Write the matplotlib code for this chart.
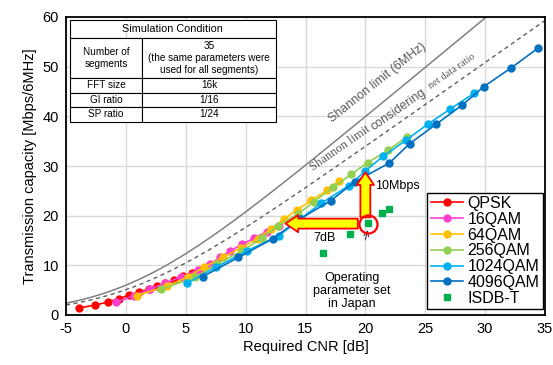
import matplotlib
matplotlib.use("Agg")
import matplotlib.pyplot as plt
import numpy as np
from matplotlib.patches import FancyArrowPatch

plt.rcParams['font.family'] = ['Liberation Sans', 'DejaVu Sans']
plt.rcParams['axes.unicode_minus'] = False

# data
qpsk_x = [-3.9, -2.6, -1.5, -0.6, 0.3, 1.1, 1.9, 2.6, 3.3, 4.0, 4.8, 5.5, 6.3]
qpsk_y = [1.4, 2.0, 2.6, 3.3, 4.0, 4.6, 5.2, 5.8, 6.4, 7.0, 7.8, 8.5, 9.0]
qam16_x = [-0.8, 0.7, 2.0, 3.3, 4.6, 6.0, 7.0, 7.9, 8.7, 9.7, 10.7, 11.8, 12.8]
qam16_y = [2.6, 3.9, 5.2, 6.4, 7.7, 9.0, 10.3, 11.6, 12.9, 14.2, 15.5, 16.8, 18.0]
qam64_x = [0.9, 3.4, 5.2, 6.5, 8.1, 9.6, 11.0, 12.1, 13.2, 14.3, 15.5, 16.8, 17.8]
qam64_y = [3.9, 5.8, 7.7, 9.6, 11.6, 13.5, 15.4, 17.3, 19.3, 21.2, 23.1, 25.1, 27.0]
qam256_x = [2.9, 5.8, 7.6, 9.7, 11.4, 12.7, 14.4, 15.7, 17.3, 18.8, 20.2, 21.9, 23.5]
qam256_y = [5.2, 7.6, 10.3, 12.9, 15.5, 18.0, 20.4, 22.8, 25.7, 28.3, 30.7, 33.2, 35.9]
qam1024_x = [5.1, 7.5, 10.1, 12.8, 14.6, 16.3, 18.6, 20.0, 21.5, 23.4, 25.2, 27.1, 29.1]
qam1024_y = [6.4, 9.6, 12.9, 16.0, 19.4, 22.5, 26.0, 29.0, 32.0, 35.2, 38.4, 41.5, 44.7]
qam4096_x = [6.4, 9.4, 12.3, 14.5, 17.1, 19.1, 22.0, 23.7, 25.9, 28.1, 29.9, 32.2, 34.4]
qam4096_y = [7.7, 11.6, 15.4, 19.3, 23.0, 26.8, 30.6, 34.5, 38.4, 42.3, 46.0, 49.8, 53.7]
isdb_x = [16.5, 18.7, 20.2, 21.4, 22.0]
isdb_y = [12.4, 16.4, 18.5, 20.5, 21.3]

names = ['QPSK', '16QAM', '64QAM', '256QAM', '1024QAM', '4096QAM']
colors = ['#FF0000', '#FF3FD0', '#FFC000', '#92D050', '#00B0F0', '#0070C0']
xs = [qpsk_x, qam16_x, qam64_x, qam256_x, qam1024_x, qam4096_x]
ys = [qpsk_y, qam16_y, qam64_y, qam256_y, qam1024_y, qam4096_y]

# shannon curves
cnr = np.linspace(-5, 35, 300)
shannon = 6 * np.log2(1 + 10 ** (cnr / 10))
net_ratio = 0.85

fig = plt.figure(figsize=(5.53, 3.65), dpi=100)
ax = fig.add_axes([66 / 553, 1 - 315 / 365, 479 / 553, 298 / 365])

ax.plot(cnr, shannon, color='#808080', lw=1.1, zorder=2)
ax.plot(cnr, shannon * net_ratio, color='#606060', lw=1.0, ls=(0, (3, 2.5)), zorder=2)

for x, y, n, c in zip(xs, ys, names, colors):
    ax.plot(x, y, '-o', color=c, lw=1.2, ms=5, label=n, zorder=3)
ax.plot(isdb_x, isdb_y, 's', color='#00B050', ms=5, ls='none', label='ISDB-T', zorder=3)

# arrows and marker for operating point
ax.plot([20.2], [18.4], 'o', ms=13, mfc='none', mec='#FF0000', mew=1.6, zorder=6)
for start, end in [((19.6, 18.4), (13.1, 18.4)), ((20.0, 19.1), (20.0, 29.3))]:
    arr = FancyArrowPatch(start, end, arrowstyle='simple,head_width=0.95,head_length=0.7,tail_width=0.55',
                          mutation_scale=13, fc='#FFFF00', ec='#FF0000', lw=1.3, zorder=5)
    ax.add_patch(arr)
ax.text(16.6, 15.6, '7dB', fontsize=9, ha='center', va='center')
ax.text(20.8, 25.9, '10Mbps', fontsize=9, ha='left', va='center')
ax.annotate('Operating\nparameter set\nin Japan', xy=(20.2, 17.1), xytext=(18.9, 4.8),
            fontsize=9, ha='center', va='center', linespacing=1.1,
            arrowprops=dict(arrowstyle='->', color='#404040', lw=0.8, shrinkB=0, shrinkA=22))

ax.text(21.0, 46.7, 'Shannon limit (6MHz)', rotation=38.5, color='#595959', fontsize=9,
        ha='center', va='center')
ax.text(17.9, 33.5, 'Shannon limit', rotation=35, color='#595959', fontsize=9,
        family='Liberation Serif', ha='center', va='center')
ax.text(22.8, 41.3, 'considering', rotation=35, color='#595959', fontsize=9,
        ha='center', va='center')
ax.text(27.2, 49.1, 'net data ratio', rotation=35, color='#595959', fontsize=7.5,
        family='Liberation Serif', ha='center', va='center')

ax.set_xlim(-5, 35)
ax.set_ylim(0, 60)
ax.set_xticks(range(-5, 36, 5))
ax.set_yticks(range(0, 61, 10))
ax.grid(True, color='#D9D9D9', lw=1.0)
ax.set_axisbelow(True)
for s in ax.spines.values():
    s.set_linewidth(1.3)
ax.tick_params(labelsize=10.5, length=0, pad=5)
ax.set_xlabel('Required CNR [dB]', fontsize=10.5, labelpad=3)
ax.set_ylabel('Transmission capacity [Mbps/6MHz]', fontsize=10.5, labelpad=4)

leg = ax.legend(loc='lower right', bbox_to_anchor=(0.995, 0.02), fontsize=11.5, frameon=True,
                fancybox=False, edgecolor='black', framealpha=1, borderpad=0.2,
                labelspacing=0.05, handlelength=2.0, handletextpad=0.3, borderaxespad=0)
leg.get_frame().set_linewidth(1.0)

# simulation condition table
rows = [['', ''],
        ['Number of\nsegments', '35\n(the same parameters were\nused for all segments)'],
        ['FFT size', '16k'],
        ['GI ratio', '1/16'],
        ['SP ratio', '1/24']]
tb = ax.table(cellText=rows, colWidths=[0.352, 0.648], cellLoc='center',
              bbox=[0.008, 0.648, 0.43, 0.342], zorder=7)
tb.auto_set_font_size(False)
tb.set_fontsize(7.2)
heights = [18, 40, 15, 14, 15]
tot = sum(heights)
for (r, c), cell in tb.get_celld().items():
    cell.set_height(heights[r] / tot * 0.342)
    cell.set_linewidth(0.8)
    cell.set_facecolor('white')
    if r == 0:
        cell.visible_edges = 'BTL' if c == 0 else 'BTR'
ax.text(0.008 + 0.43 / 2, 0.99 - 9 / 298, 'Simulation Condition', transform=ax.transAxes,
        fontsize=7.8, ha='center', va='center', zorder=8)

fig.savefig('out.png', dpi=100)
